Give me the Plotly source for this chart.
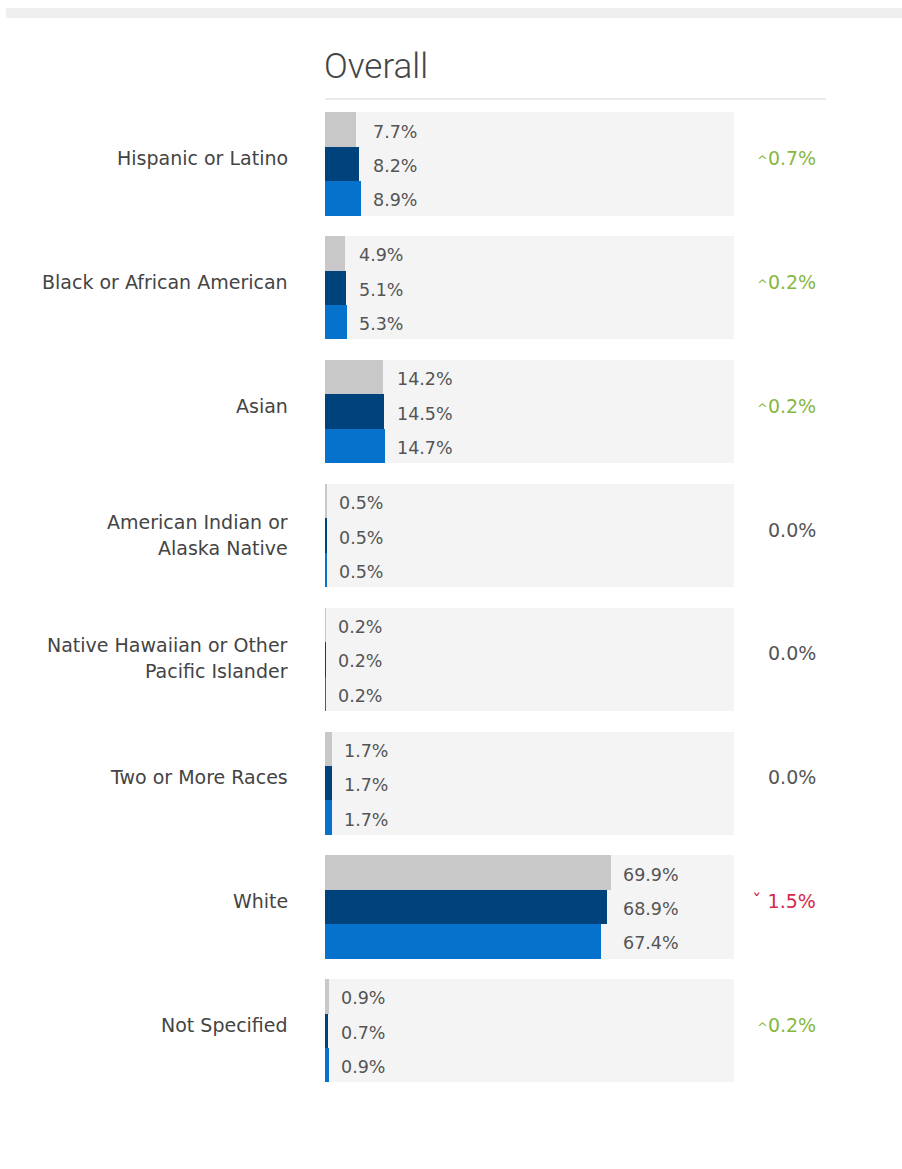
import plotly.graph_objects as go

# ---------------- data ----------------
categories = [
    "Hispanic or Latino",
    "Black or African American",
    "Asian",
    "American Indian or<br>Alaska Native",
    "Native Hawaiian or Other<br>Pacific Islander",
    "Two or More Races",
    "White",
    "Not Specified",
]
series_names = ["Earlier year", "Previous year", "Current year"]
values_earlier = [7.7, 4.9, 14.2, 0.5, 0.2, 1.7, 69.9, 0.9]
values_previous = [8.2, 5.1, 14.5, 0.5, 0.2, 1.7, 68.9, 0.7]
values_current = [8.9, 5.3, 14.7, 0.5, 0.2, 1.7, 67.4, 0.9]
title_text = "Overall"

# ---------------- layout constants ----------------
W, H = 902, 1169
BAR_PX = 34.4          # pixel height of one bar (1 y-unit)
GROUP_PITCH = 3.6      # y-units between group centres
Y0_PX = 164            # pixel of first group centre
X_LEFT, X_RIGHT = 325, 734
LABEL_RIGHT = 290
CHANGE_RIGHT = 818

colors = ["#c8c8c8", "#00437c", "#0672cb"]
bg_color = "#f4f4f4"
font_family = "DejaVu Sans, sans-serif"

series = [values_earlier, values_previous, values_current]
n = len(categories)
centers = [i * GROUP_PITCH for i in range(n)]

fig = go.Figure()

# background panels (0-100 %)
fig.add_trace(go.Bar(
    x=[100] * n, y=centers, width=[3.0] * n, orientation="h",
    marker=dict(color=bg_color, line=dict(width=0)),
    hoverinfo="skip", showlegend=False,
))

for k, (name, vals) in enumerate(zip(series_names, series)):
    fig.add_trace(go.Bar(
        x=vals, y=[c + (k - 1) for c in centers], width=[1.0] * n,
        orientation="h", name=name,
        marker=dict(color=colors[k], line=dict(width=0)),
        showlegend=False,
    ))

annotations = []
# value labels
for i in range(n):
    gmax = max(s[i] for s in series)
    for k, vals in enumerate(series):
        annotations.append(dict(
            x=gmax, y=centers[i] + (k - 1), xref="x", yref="y",
            text=f"{vals[i]:.1f}%", showarrow=False, xanchor="left",
            yanchor="middle", xshift=10, yshift=-2,
            font=dict(family=font_family, size=17.5, color="#555555"),
        ))

# category labels
for i, cat in enumerate(categories):
    lines = cat.split("<br>")
    if len(lines) == 1:
        shifts = [6]
    else:
        shifts = [14, -12]
    for line, sh in zip(lines, shifts):
        annotations.append(dict(
            x=LABEL_RIGHT / W, y=centers[i], xref="paper", yref="y",
            text=line, showarrow=False, xanchor="right", yanchor="middle",
            yshift=sh,
            font=dict(family=font_family, size=19, color="#444444"),
        ))

# change labels (current - previous)
for i in range(n):
    d = round(values_current[i] - values_previous[i], 1)
    if d > 0:
        txt = f"<span style='font-size:13px'>^</span>{d:.1f}%"
        col = "#86b83f"
    elif d < 0:
        txt = f"ˇ {abs(d):.1f}%"
        col = "#d42a4c"
    else:
        txt = f"{abs(d):.1f}%"
        col = "#555555"
    annotations.append(dict(
        x=CHANGE_RIGHT / W, y=centers[i], xref="paper", yref="y",
        text=txt, showarrow=False, xanchor="right", yanchor="middle",
        yshift=6,
        font=dict(family=font_family, size=19, color=col),
    ))

# title
annotations.append(dict(
    x=X_LEFT / W, y=1 - 67 / H, xref="paper", yref="paper",
    text=title_text, showarrow=False, xanchor="left", yanchor="middle",
    xshift=-3,
    font=dict(family="Roboto, sans-serif", size=35, color="#444444", weight=300),
))

shapes = [
    dict(type="rect", xref="paper", yref="paper",
         x0=6 / W, x1=1, y0=1 - 18 / H, y1=1 - 8 / H,
         fillcolor="#efefef", line=dict(width=0), layer="below"),
    dict(type="line", xref="paper", yref="paper",
         x0=X_LEFT / W, x1=826 / W, y0=1 - 99 / H, y1=1 - 99 / H,
         line=dict(color="#d6d6d6", width=1)),
]

y_top = -Y0_PX / BAR_PX
y_bottom = (H - Y0_PX) / BAR_PX

fig.update_layout(
    width=W, height=H,
    margin=dict(l=0, r=0, t=0, b=0),
    paper_bgcolor="white", plot_bgcolor="white",
    barmode="overlay", bargap=0,
    showlegend=False,
    hovermode=False,
    annotations=annotations,
    shapes=shapes,
    xaxis=dict(domain=[X_LEFT / W, X_RIGHT / W], range=[0, 100], visible=False,
               fixedrange=True),
    yaxis=dict(domain=[0, 1], range=[y_bottom, y_top], visible=False,
               fixedrange=True),
)

fig.write_html("out.html")
